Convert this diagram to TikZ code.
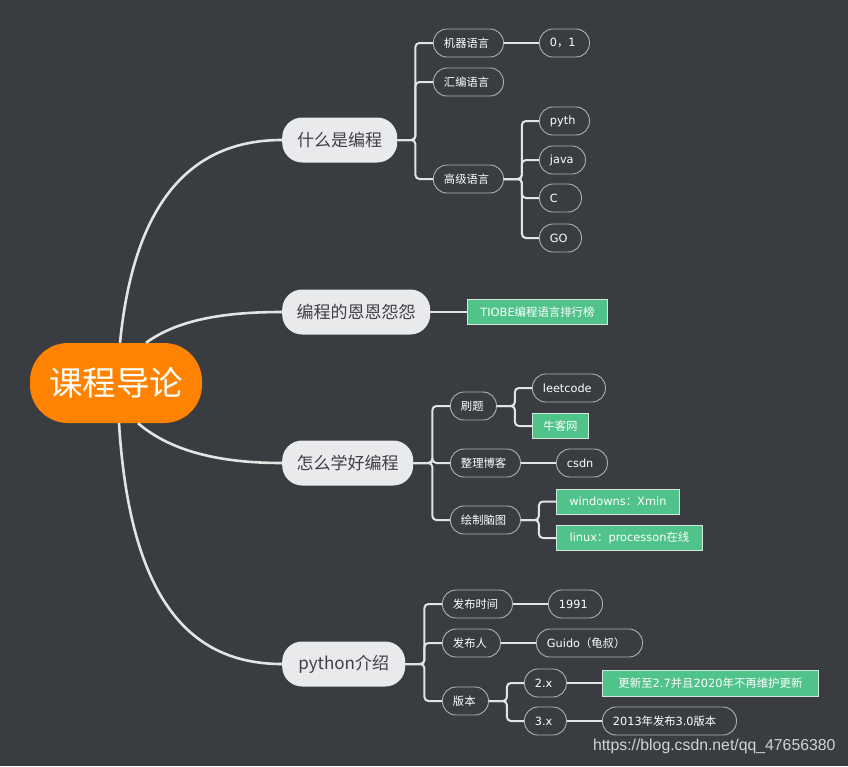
\documentclass[tikz,border=0pt]{standalone}
\usepackage{fontspec}
\setmainfont{Noto Sans CJK SC}
\newfontfamily\latfont{DejaVu Sans}
\newfontfamily\zhfont{Noto Sans CJK SC}
\newfontfamily\markfont{Liberation Sans}
\newcommand{\zh}[1]{{\zhfont #1}}
\usetikzlibrary{positioning}
\definecolor{bgdark}{HTML}{393C41}
\definecolor{rootfill}{HTML}{FF8300}
\definecolor{topicfill}{HTML}{E9EAEC}
\definecolor{topictext}{HTML}{3E4046}
\definecolor{linelight}{HTML}{E4E4E4}
\definecolor{leafline}{HTML}{AEB0B3}
\definecolor{notefill}{HTML}{50C38A}
\definecolor{noteline}{HTML}{D2EADD}
\definecolor{marktext}{HTML}{D4D4D4}

\begin{document}
\begin{tikzpicture}[x=1pt, y=-1pt,
  root/.style={fill=rootfill, rounded corners=38pt, minimum width=172, minimum height=80,
               text=white, font=\fontsize{33.5}{38}\selectfont},
  topic/.style={fill=topicfill, rounded corners=20pt, minimum height=45, anchor=west,
                text=topictext, inner xsep=6pt, font=\fontsize{17}{20}\selectfont},
  leaf/.style={draw=leafline, line width=0.9pt, rounded corners=13.5pt, minimum height=28,
               anchor=west, text=white, inner xsep=10.5pt, text width=#1, align=left,
               font=\latfont\fontsize{11.3}{13}\selectfont},
  note/.style={draw=noteline, line width=0.9pt, fill=notefill, minimum height=25,
               anchor=west, text=white, inner xsep=6pt, font=\latfont\fontsize{11.4}{13}\selectfont},
  trunk/.style={draw=linelight, line width=2.6pt},
  branch/.style={draw=linelight, line width=2pt, rounded corners=4pt},
  urlmark/.style={text=marktext, font=\markfont\fontsize{15.8}{17}\selectfont}
]
\fill[bgdark] (0,0) rectangle (848,766);
\useasboundingbox (0,0) rectangle (848,766);

% centre
\node[root] (kc) at (116,383) {课程导论};

% topics
\node[topic, minimum width=115] (t1) at (282,140) {什么是编程};
\node[topic, minimum width=148] (t2) at (282,312) {编程的恩恩怨怨};
\node[topic, minimum width=131] (t3) at (282,463) {怎么学好编程};
\node[topic, minimum width=123] (t4) at (282,664) {python介绍};

\draw[trunk] ([xshift=4]kc.north) .. controls (135,190) and (200,140) .. (t1.west);
\draw[trunk] ([xshift=30]kc.north) .. controls (180,318) and (230,312) .. (t2.west);
\draw[trunk] ([xshift=22]kc.south) .. controls (175,455) and (230,463) .. (t3.west);
\draw[trunk] ([xshift=3]kc.south) .. controls (130,600) and (190,664) .. (t4.west);

% 什么是编程
\node[leaf=49] (a1) at (433,43) {\zh{机器语言}};
\node[leaf=49] (a2) at (433,82) {\zh{汇编语言}};
\node[leaf=49] (a3) at (433,179) {\zh{高级语言}};
\node[leaf=29] (z1) at (539,43) {0\zh{，}1};
\node[leaf=29] (p1) at (539,121) {pyth};
\node[leaf=25] (p2) at (539,160) {java};
\node[leaf=21] (p3) at (539,198) {C};
\node[leaf=21] (p4) at (539,238) {GO};

\foreach \k in {a1,a2,a3}
  \draw[branch] (t1.east) -- ++(18,0) |- (\k.west);
\draw[branch] (a1) -- (z1);
\foreach \k in {p1,p2,p3,p4}
  \draw[branch] (a3.east) -- ++(18,0) |- (\k.west);

% 编程的恩恩怨怨
\node[note, minimum width=140] (n1) at (467,312) {TIOBE\zh{编程语言排行榜}};
\draw[branch] (t2) -- (n1);

% 怎么学好编程
\node[leaf=25] (b1) at (450,406) {\zh{刷题}};
\node[leaf=49] (b2) at (450,463) {\zh{整理博客}};
\node[leaf=49] (b3) at (450,520) {\zh{绘制脑图}};
\node[leaf=52] (c1) at (532,388) {leetcode};
\node[note, minimum width=56] (c2) at (532,426) {\zh{牛客网}};
\node[leaf=30] (c3) at (556,463) {csdn};
\node[note, minimum width=123] (c4) at (556,501.5) {windowns\zh{：}Xmin};
\node[note, minimum width=146] (c5) at (556,538) {linux\zh{：}processon\zh{在线}};

\foreach \k in {b1,b2,b3}
  \draw[branch] (t3.east) -- ++(19,0) |- (\k.west);
\foreach \k in {c1,c2}
  \draw[branch] (b1.east) -- ++(18,0) |- (\k.west);
\draw[branch] (b2) -- (c3);
\foreach \k in {c4,c5}
  \draw[branch] (b3.east) -- ++(18,0) |- (\k.west);

% python介绍
\node[leaf=49] (d1) at (442,604) {\zh{发布时间}};
\node[leaf=37] (d2) at (442,643) {\zh{发布人}};
\node[leaf=25] (d3) at (442,701) {\zh{版本}};
\node[leaf=33] (e1) at (548,604) {1991};
\node[leaf=85] (e2) at (536,643) {Guido\zh{（龟叔）}};
\node[leaf=21] (f1) at (524,683) {2.x};
\node[leaf=21] (f2) at (524,721) {3.x};
\node[note, minimum width=216, minimum height=26] (g1) at (602,683) {\zh{更新至}2.7\zh{并且}2020\zh{年不再维护更新}};
\node[leaf=113] (g2) at (602,721) {2013\zh{年发布}3.0\zh{版本}};

\foreach \k in {d1,d2,d3}
  \draw[branch] (t4.east) -- ++(19,0) |- (\k.west);
\draw[branch] (d1) -- (e1);
\draw[branch] (d2) -- (e2);
\foreach \k in {f1,f2}
  \draw[branch] (d3.east) -- ++(18,0) |- (\k.west);
\draw[branch] (f1) -- (g1);
\draw[branch] (f2) -- (g2);

\node[urlmark, anchor=east] (wm) at (839,746) {https://blog.csdn.net/qq\_47656380};
\end{tikzpicture}
\end{document}
